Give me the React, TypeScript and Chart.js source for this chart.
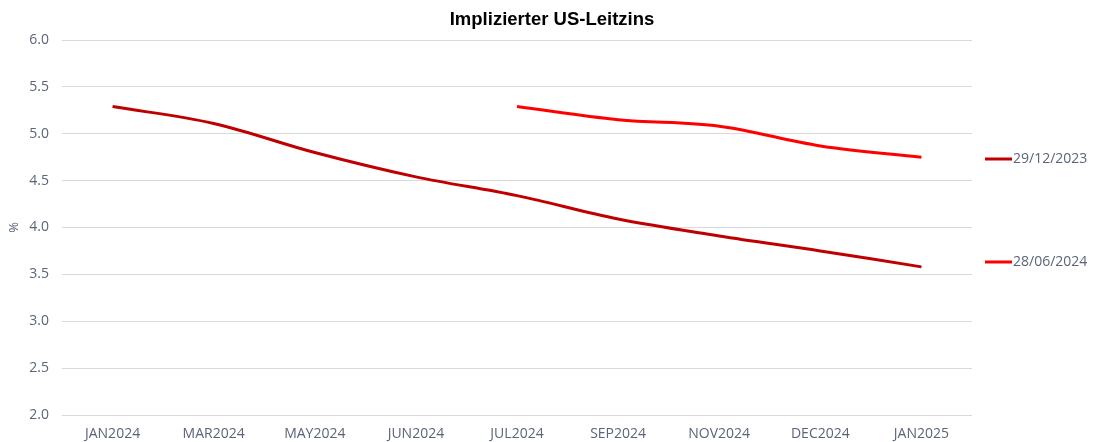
import React, { useEffect, useRef } from "react";
import { Chart, registerables } from "chart.js";

Chart.register(...registerables);

const categories = ["JAN2024", "MAR2024", "MAY2024", "JUN2024", "JUL2024", "SEP2024", "NOV2024", "DEC2024", "JAN2025"];
const series1Label = "29/12/2023";
const series1 = [5.29, 5.11, 4.8, 4.54, 4.34, 4.09, 3.91, 3.75, 3.58];
const series2Label = "28/06/2024";
const series2 = [null, null, null, null, 5.29, 5.15, 5.08, 4.87, 4.75];
const titleText = "Implizierter US-Leitzins";
const yAxisTitle = "%";

const FONT = "'Open Sans', sans-serif";
const TEXT_COLOR = "#5b6478";
const COLOR1 = "#c00000";
const COLOR2 = "#ff0000";

const sideLegend = {
  id: "sideLegend",
  afterDraw(chart: any) {
    const ctx = chart.ctx;
    const x0 = chart.chartArea.right + 13;
    const items = [
      { label: chart.data.datasets[0].label, color: chart.data.datasets[0].borderColor, y: 159 },
      { label: chart.data.datasets[1].label, color: chart.data.datasets[1].borderColor, y: 262 },
    ];
    ctx.save();
    for (const it of items) {
      ctx.strokeStyle = it.color;
      ctx.lineWidth = 3;
      ctx.beginPath();
      ctx.moveTo(x0, it.y);
      ctx.lineTo(x0 + 27, it.y);
      ctx.stroke();
      ctx.fillStyle = TEXT_COLOR;
      ctx.font = `14px ${FONT}`;
      ctx.textBaseline = "middle";
      ctx.textAlign = "left";
      ctx.fillText(it.label, x0 + 28, it.y);
    }
    // title centred on the whole canvas
    ctx.fillStyle = "#000000";
    ctx.font = "bold 18.5px 'Liberation Sans', Arial, sans-serif";
    ctx.textAlign = "center";
    ctx.textBaseline = "middle";
    ctx.fillText(titleText, chart.width / 2 + 4, 20);
    ctx.restore();
  },
};

export default function App() {
  const ref = useRef<HTMLCanvasElement>(null);
  useEffect(() => {
    const chart = new Chart(ref.current!, {
      type: "line",
      data: {
        labels: categories,
        datasets: [
          {
            label: series1Label,
            data: series1,
            borderColor: COLOR1,
            backgroundColor: COLOR1,
            borderWidth: 3,
            pointRadius: 0,
            tension: 0.35,
          },
          {
            label: series2Label,
            data: series2 as any,
            borderColor: COLOR2,
            backgroundColor: COLOR2,
            borderWidth: 3,
            pointRadius: 0,
            tension: 0.35,
          },
        ],
      },
      options: {
        animation: false,
        responsive: false,
        layout: { padding: { left: 0, right: 124, top: 40, bottom: 0 } },
        plugins: {
          legend: { display: false },
          tooltip: { enabled: false },
          title: { display: false },
        },
        scales: {
          x: {
            offset: true,
            grid: { display: false, drawTicks: false },
            border: { display: false },
            ticks: {
              color: TEXT_COLOR,
              font: { family: FONT, size: 14 },
              padding: 11,
              maxRotation: 0,
              autoSkip: false,
            },
            afterFit: (scale: any) => {
              scale.height = 27;
            },
          },
          y: {
            min: 2,
            max: 6,
            grid: { color: "#d9d9d9", lineWidth: 1, drawTicks: false },
            border: { display: false },
            ticks: {
              stepSize: 0.5,
              color: TEXT_COLOR,
              font: { family: FONT, size: 14 },
              padding: 13,
              callback: (v: any) => Number(v).toFixed(1),
            },
            title: {
              display: true,
              text: yAxisTitle,
              color: TEXT_COLOR,
              font: { family: FONT, size: 13 },
              padding: { top: 6, bottom: 0 },
            },
            afterFit: (scale: any) => {
              scale.width = 62;
            },
          },
        },
      },
      plugins: [sideLegend],
    });
    return () => chart.destroy();
  }, []);
  return (
    <div style={{ position: "fixed", left: 0, top: 0, width: 1096, height: 442 }}>
      <canvas ref={ref} width={1096} height={442} style={{ display: "block" }} />
    </div>
  );
}
